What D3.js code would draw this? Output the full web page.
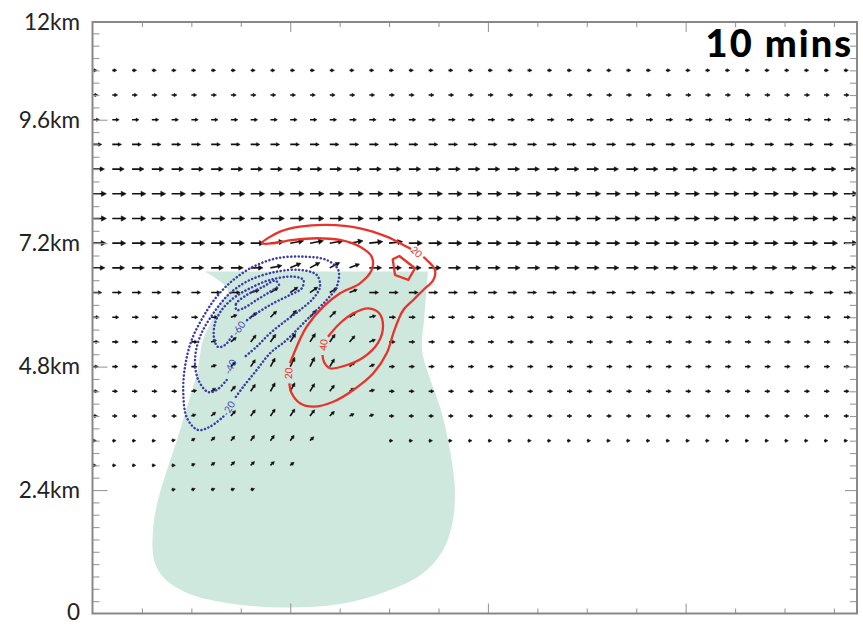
<!DOCTYPE html>
<html><head><meta charset="utf-8">
<script src="https://cdn.jsdelivr.net/npm/d3@7"></script>
<style>body{margin:0;background:#fff}svg{display:block}</style>
</head><body>
<svg id="c" width="863" height="625"></svg>
<script>
// ---------------- DATA ----------------
// grid columns (km from left edge) and levels (km)
const xCols = [0,0.48,0.96,1.44,1.92,2.40,2.88,3.36,3.84,4.32,4.80,5.28,5.76,6.24,6.72,7.20,7.68,8.16,8.64,9.12,9.60,10.08,10.56,11.04,11.52,12.00,12.48,12.96,13.44,13.92,14.40,14.88,15.36,15.84,16.32,16.80,17.28,17.76,18.24];
const levels = [2.40,2.88,3.36,3.84,4.32,4.80,5.28,5.76,6.24,6.72,7.20,7.68,8.16,8.64,9.12,9.60,10.08,10.56];
// environmental horizontal wind per level (m/s)
const uEnv = [5,5,5,6.5,7,7.5,8,8.5,12,16,17.5,18,18,15.5,12,9,7,6];
// last column present per level (right part of the lowest rows is empty)
const lastCol = [8,10,38,38,38,38,38,38,38,38,38,38,38,38,38,38,38,38];
// disturbed lower region: u and w (m/s) for columns 0..17, levels 2.40..7.20 (null = no arrow)
const uLow = [
 [null,null,null,null,5,5,5,5,5,null,null,null,null,null,null,null,null,null],
 [5,5,5,5,5,5,5,5,5,5,5,null,null,null,null,null,null,null],
 [5,5,5,5,5,5,5,5,5,5,5,5,null,null,null,5,5,5],
 [6.5,6.5,6.5,6.5,6.5,6,6,6,6,6,6,6,6,6,6,6.5,6.5,6.5],
 [7,7,7,7,7,7,6,6,6,6,6,6,6,6,7,7,7,7],
 [7.5,7.5,7.5,7.5,7.5,7.5,7,6,6,6,6,6,6,7,7,7.5,7.5,7.5],
 [8,8,8,8,8,8,7,7,7,7,7,7,7,7,8,8,8,8],
 [8.5,8.5,8.5,8.5,8.5,8.5,8.5,8,8,8,8,8,8,8,8.5,8.5,8.5,8.5],
 [12,12,12,12,12,12,12,12,11,10,10,10,10,10,12,12,12,12],
 [16,16,16,16,16,16,16,16,16,15,14,13,13,13,16,16,16,16],
 [17.5,17.5,17.5,17.5,17.5,17.5,17.5,17.5,17.5,17.5,17.5,17.5,17.5,17.5,17.5,17.5,17.5,17.5]
];
const wLow = [
 [0,0,0,0,1.5,2,2,2,2,0,0,0,0,0,0,0,0,0],
 [0,0,0,0,0,2,4,5,5,5,4,0,0,0,0,0,0,0],
 [0,0,0,0,1,3,5,6,7,7,7,5,0,0,0,0,0,0],
 [0,0,0,0,0,2,5,7,8,9,9,8,6,3,2,0,0,0],
 [0,0,0,0,0,1,4,7,9,11,11,10,8,4,2,0,0,0],
 [0,0,0,0,0,0,2,6,9,11,12,12,10,6,3,0,0,0],
 [0,0,0,0,0,0,2,6,9,10,11,11,10,8,3,0,0,0],
 [0,0,0,0,0,0,0,3,6,8,9,9,8,6,2,0,0,0],
 [0,0,0,0,0,0,0,0,3,6,7,7,6,4,0,0,0,0],
 [0,0,0,0,0,0,0,0,0,3,6,7,7,5,0,0,0,0],
 [0,0,0,0,0,0,0,0,0,2,3,3,3,3,2,2,0,0]
];
// cloud outline (x km, z km)
const cloudX = [2.731,3.290,3.120,2.901,2.682,2.537,2.294,2.051,1.809,1.590,1.469,1.493,1.712,2.294,3.265,4.625,6.009,7.101,8.000,8.486,8.729,8.802,8.754,8.631,8.437,8.146,8.000,8.049,8.098,8.146];
const cloudZ = [6.650,6.290,6.057,5.707,5.318,4.676,4.015,3.374,2.790,2.207,1.624,1.040,0.710,0.399,0.204,0.117,0.185,0.418,0.768,1.196,1.721,2.304,2.790,3.374,4.015,4.676,5.124,5.707,6.193,6.650];
// positive (red) contours, split at labels
const red20aX = [8.031,8.114,8.315,8.274,8.031,7.788,7.546,7.424,7.303,7.142,6.817,6.332,5.846,5.361,5.038,4.836,4.778];
const red20aZ = [6.932,6.873,6.679,6.485,6.290,6.096,5.901,5.707,5.448,5.059,4.670,4.346,4.118,4.021,4.087,4.282,4.476];
const red20bX = [4.795,4.958,5.200,5.603,6.009,6.494,6.778,6.778,6.494,6.009,5.443,4.875,4.389,4.108,4.552,5.038,5.686,6.494,7.142,7.628,7.734];
const red20bZ = [4.865,5.188,5.577,5.965,6.226,6.420,6.679,6.938,7.132,7.262,7.296,7.262,7.198,7.198,7.424,7.521,7.554,7.490,7.327,7.132,7.087];
const red20cX = [7.288,7.449,7.830,7.667,7.344];
const red20cZ = [6.887,6.951,6.712,6.485,6.582];
const red40X = [5.717,6.009,6.332,6.696,6.956,7.053,6.931,6.591,6.179,5.766,5.620,5.584];
const red40Z = [5.382,5.643,5.837,5.934,5.843,5.591,5.260,4.987,4.831,4.768,4.890,5.026];
// negative (blue) contours
const blue20X = [3.176,2.853,2.561,2.294,2.204,2.246,2.408,2.690,3.015,3.418,3.904,4.472,5.118,5.686,5.967,5.929,5.686,5.361,5.038,4.715,4.309,3.986,3.661,3.460];
const blue20Z = [3.827,3.632,3.568,3.801,4.282,4.799,5.318,5.771,6.160,6.485,6.743,6.906,6.938,6.873,6.679,6.354,6.096,5.837,5.577,5.318,5.059,4.735,4.410,4.190];
const blue40X = [3.258,3.015,2.804,2.569,2.488,2.610,2.933,3.338,3.824,4.472,5.038,5.443,5.523,5.361,5.038,4.715,4.309,3.986,3.661];
const blue40Z = [4.540,4.346,4.307,4.540,4.929,5.382,5.837,6.226,6.485,6.646,6.679,6.582,6.354,6.129,5.901,5.707,5.448,5.188,4.968];
const blue60X = [3.379,3.217,3.047,2.950,2.974,3.137,3.418,3.824,4.309,4.875,5.118,5.079,4.795,4.389,3.986,3.702];
const blue60Z = [5.382,5.221,5.182,5.357,5.643,5.901,6.129,6.323,6.485,6.549,6.485,6.323,6.193,6.032,5.837,5.674];
const blue80X = [3.501,3.484,3.744,4.147,4.431,4.528,4.309,3.986,3.661];
const blue80Z = [5.901,6.018,6.193,6.354,6.471,6.387,6.257,6.096,5.934];
// contour labels
const clabText = ["20","20","40","-20","-40","-60"];
const clabX = [7.871,4.754,5.603,3.297,3.338,3.540];
const clabZ = [7.035,4.670,5.221,3.990,4.799,5.545];
const clabAng = [42,-88,-85,-60,-65,-55];
const clabSign = [1,1,1,-1,-1,-1];
// axis ticks
const yTickVals = [0,2.4,4.8,7.2,9.6,11.5];
const yTickLabels = ["0","2.4km","4.8km","7.2km","9.6km","12km"];
const yMinorStep = 0.24, xMinorStep = 1.2, xMajorStep = 4.8;
const title = "10 mins";

// ---------------- DRAW ----------------
const svg = d3.select("#c");
const L = 92.5, R = 857, T = 22, B = 613.5;
const x = d3.scaleLinear().domain([0,18.56]).range([L,R]);
const y = d3.scaleLinear().domain([0,11.5]).range([B,T]);
const len = d3.scaleLinear().domain([0,20]).range([0,15.5]);

svg.append("defs").append("clipPath").attr("id","pc")
  .append("rect").attr("x",L).attr("y",T).attr("width",R-L).attr("height",B-T);

// cloud
const cloudPts = cloudX.map((v,i)=>[x(v),y(cloudZ[i])]);
svg.append("path")
  .attr("d", d3.line().curve(d3.curveCatmullRom.alpha(0.5))(cloudPts) + "Z")
  .attr("fill","#cfe8de").attr("stroke","none");

// arrows
const ag = svg.append("g").attr("clip-path","url(#pc)");
function drawArrow(x0,y0,u,w){
  const dx = len(u), dy = -len(w);
  const Lp = Math.hypot(dx,dy);
  if (Lp < 0.5) return;
  const ux = dx/Lp, uy = dy/Lp;
  const h = Math.max(3, 0.36*Lp), hw = Math.max(1.7, 0.19*Lp);
  const tx = x0+dx, ty = y0+dy;
  const bx = tx-ux*h, by = ty-uy*h;
  ag.append("line").attr("x1",x0).attr("y1",y0).attr("x2",bx+ux*0.8).attr("y2",by+uy*0.8)
    .attr("stroke","#111").attr("stroke-width",1.6);
  ag.append("path").attr("d",`M${tx},${ty}L${bx-uy*hw},${by+ux*hw}L${bx+uy*hw},${by-ux*hw}Z`)
    .attr("fill","#111").attr("stroke","#111").attr("stroke-width",0.5).attr("stroke-linejoin","round");
}
levels.forEach((lv,i)=>{
  xCols.forEach((xc,k)=>{
    if (k > lastCol[i]) return;
    let u = uEnv[i], w = 0;
    if (i < uLow.length && k < uLow[i].length) { u = uLow[i][k]; w = wLow[i][k]; }
    if (u === null) return;
    drawArrow(x(xc), y(lv), u, w);
  });
});

// contours
const cline = d3.line().curve(d3.curveCatmullRom.alpha(0.5));
const cg = svg.append("g").attr("clip-path","url(#pc)");
function styleC(p,pos){
  if (pos) p.attr("stroke","#e8332b").attr("stroke-width",2.3).attr("stroke-linejoin","round");
  else p.attr("stroke","#3b3ca8").attr("stroke-width",2.5).attr("stroke-dasharray","0.1 3.6").attr("stroke-linecap","round");
}
function contour(xs,zs,pos,closed){
  const pts = xs.map((v,i)=>[x(v),y(zs[i])]);
  const d = closed ? d3.line().curve(d3.curveLinearClosed)(pts) : cline(pts);
  styleC(cg.append("path").attr("d",d).attr("fill","none"), pos);
}
contour(red20aX,red20aZ,true,false);
contour(red20bX,red20bZ,true,false);
contour(red20cX,red20cZ,true,true);
contour(red40X,red40Z,true,false);
contour(blue20X,blue20Z,false,false);
contour(blue40X,blue40Z,false,false);
contour(blue60X,blue60Z,false,false);
(function(){
  const pts = blue80X.map((v,i)=>[x(v),y(blue80Z[i])]);
  styleC(cg.append("path").attr("d",d3.line().curve(d3.curveCatmullRomClosed)(pts)).attr("fill","none"), false);
})();
clabText.forEach((t,i)=>{
  svg.append("text").attr("x",x(clabX[i])).attr("y",y(clabZ[i]))
    .attr("transform",`rotate(${clabAng[i]},${x(clabX[i])},${y(clabZ[i])})`)
    .attr("text-anchor","middle").attr("dominant-baseline","central")
    .attr("font-family","Lato, sans-serif").attr("font-size",10)
    .attr("fill", clabSign[i]>0 ? "#e8332b" : "#4a4cb0").text(t);
});

// axes ticks (inward)
const yMinor = d3.range(yMinorStep, 11.5, yMinorStep).filter(v=>Math.abs(v/2.4-Math.round(v/2.4))>1e-6);
const yMajor = [2.4,4.8,7.2,9.6];
const xMinor = d3.range(xMinorStep, 18.56, xMinorStep).filter(v=>Math.abs(v/xMajorStep-Math.round(v/xMajorStep))>1e-6);
const xMajor = [4.8,9.6,14.4];
function ax(gen, tr, vals, size){
  const g = svg.append("g").attr("transform",tr)
    .call(gen.tickValues(vals).tickSize(size).tickFormat(""));
  g.select(".domain").remove();
  g.selectAll("line").attr("stroke","#9a9a9a").attr("stroke-width",1.1);
}
ax(d3.axisLeft(y), `translate(${L},0)`, yMinor, -7);
ax(d3.axisLeft(y), `translate(${L},0)`, yMajor, -15);
ax(d3.axisRight(y), `translate(${R},0)`, yMinor, -7);
ax(d3.axisRight(y), `translate(${R},0)`, yMajor, -12);
ax(d3.axisBottom(x), `translate(0,${B})`, xMinor, -5);
ax(d3.axisBottom(x), `translate(0,${B})`, xMajor, -10);
ax(d3.axisTop(x), `translate(0,${T})`, xMinor, -5);
ax(d3.axisTop(x), `translate(0,${T})`, xMajor, -10);

// frame
svg.append("rect").attr("x",L).attr("y",T).attr("width",R-L).attr("height",B-T)
  .attr("fill","none").attr("stroke","#888").attr("stroke-width",2);

// y labels
yTickVals.forEach((v,i)=>{
  svg.append("text").attr("x",80).attr("y",y(v)).attr("dy", i===0 ? "0.28em" : "0.35em")
    .attr("text-anchor","end").attr("font-family","Lato, sans-serif")
    .attr("font-size",22.5).attr("fill","#222").text(yTickLabels[i]);
});

// title
svg.append("text").attr("x",853).attr("y",57).attr("text-anchor","end")
  .attr("font-family","Lato, sans-serif").attr("font-weight",900)
  .attr("font-size",38).attr("letter-spacing","2px").attr("fill","#000").text(title);
</script>
</body></html>
